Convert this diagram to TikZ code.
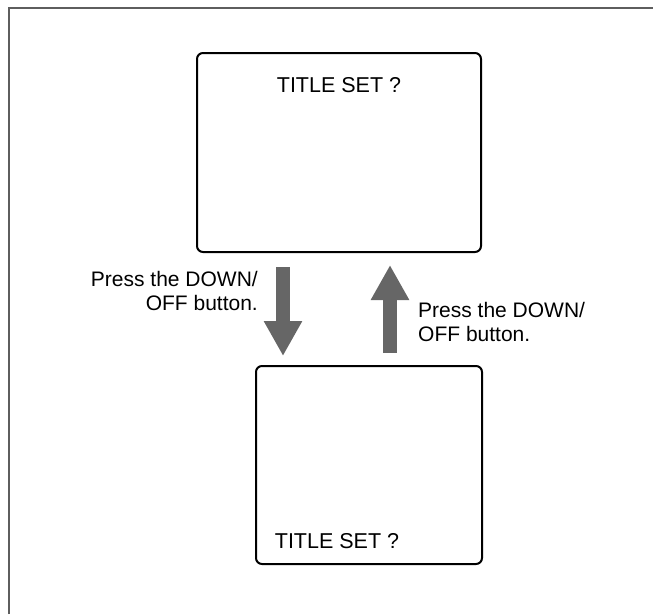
\documentclass[tikz,border=0pt]{standalone}
\usepackage{fontspec}
\setmainfont{Liberation Sans}
\usetikzlibrary{arrows.meta,positioning}
\definecolor{FrameGray}{HTML}{5E5E5E}
\definecolor{ArrowGray}{HTML}{666666}
\tikzset{
  screen/.style={
    rounded corners=6pt, draw=black, line width=2pt, inner sep=0pt
  },
  caption/.style={
    inner sep=0pt, font=\fontsize{21}{24}\selectfont
  },
  title/.style={
    inner sep=0pt, font=\fontsize{21.5}{24}\selectfont
  },
  bigflow/.style={
    -{Triangle[length=35pt,width=36pt]}, line width=14pt, draw=ArrowGray
  }
}

\begin{document}
\begin{tikzpicture}[x=1pt,y=-1pt]
    \useasboundingbox (0,0) rectangle (653,614);
    \draw[FrameGray,line width=2pt] (8.5,614) -- (8.5,7.5) -- (653,7.5);

    \node[screen,minimum width=284pt,minimum height=199pt] (upper) at (339,152.5) {};
    \node[screen,minimum width=226pt,minimum height=198pt] (lower) at (369,465) {};
    \node[title,anchor=base] (uppertitle) at (339,92) {TITLE SET ?};
    \node[title,anchor=base] (lowertitle) at (337,548) {TITLE SET ?};

    \coordinate (downstart) at (283,267);
    \coordinate (downend) at (283,356);
    \coordinate (upstart) at (390,353);
    \coordinate (upend) at (390,265);
    \draw[bigflow] (downstart) -- (downend);
    \draw[bigflow] (upstart) -- (upend);

    \node[caption,align=right,anchor=north east] (downlabel) at (258,271.5)
      {Press the DOWN/\\OFF button.};
    \node[caption,align=left,anchor=north west] (uplabel) at (418,302.5)
      {Press the DOWN/\\OFF button.};
  \end{tikzpicture}
\end{document}
